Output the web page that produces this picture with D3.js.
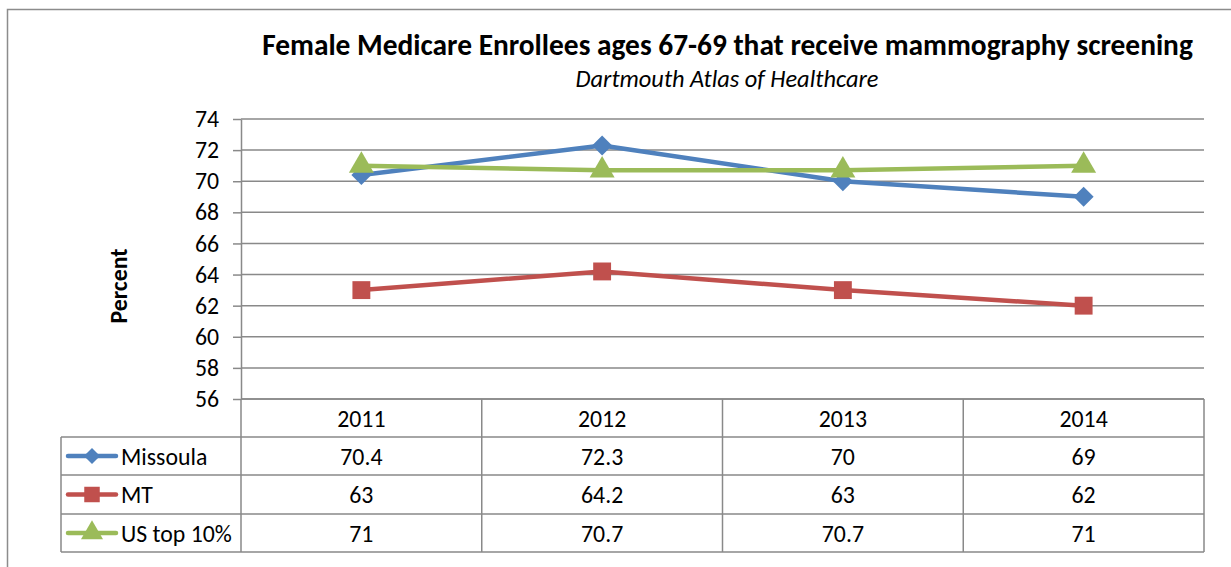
<!DOCTYPE html>
<html><head><meta charset="utf-8">
<script src="https://cdn.jsdelivr.net/npm/d3@7"></script>
<style>body{margin:0;background:#fff}svg{display:block}text{font-family:Carlito,Calibri,"Liberation Sans",Arial,sans-serif}</style>
</head><body><svg id="c" width="1231" height="567"></svg>
<script>
const categories = ["2011","2012","2013","2014"];
const seriesNames = ["Missoula","MT","US top 10%"];
const missoula = [70.4, 72.3, 70, 69];
const mt = [63, 64.2, 63, 62];
const usTop10 = [71, 70.7, 70.7, 71];
const yTicks = [56,58,60,62,64,66,68,70,72,74];
const titleText = "Female Medicare Enrollees ages 67-69 that receive mammography screening";
const subtitleText = "Dartmouth Atlas of Healthcare";
const yLabel = "Percent";

const colors = ["#4F81BD","#C0504D","#9BBB59"];
const series = [missoula, mt, usTop10];
const FS = 23.8;

const svg = d3.select("#c");
const grid = "#898989";
svg.append("rect").attr("x",7.5).attr("y",9.5).attr("width",1240).attr("height",600)
  .attr("fill","none").attr("stroke","#8c8c8c").attr("stroke-width",1.5);

function fit(sel, target){
  const w = sel.node().getComputedTextLength();
  const fs = parseFloat(sel.attr("font-size"));
  sel.attr("font-size", fs*target/w);
}

const L=241, R=1204, T=119, B=399;
const x = d3.scaleBand().domain(categories).range([L,R]);
const y = d3.scaleLinear().domain([56,74]).range([B,T]);
const cx = c => x(c)+x.bandwidth()/2;

svg.append("g").selectAll("line").data(yTicks).join("line")
  .attr("x1",L).attr("x2",R).attr("y1",d=>y(d)).attr("y2",d=>y(d))
  .attr("stroke",grid).attr("stroke-width",1.5);

const ya = svg.append("g").attr("transform",`translate(${L},0)`)
  .call(d3.axisLeft(y).tickValues(yTicks).tickSize(8).tickPadding(14).tickSizeOuter(0));
ya.select(".domain").attr("stroke",grid).attr("stroke-width",1.5);
ya.selectAll(".tick line").attr("stroke",grid).attr("stroke-width",1.5);
ya.selectAll(".tick text").attr("font-size",FS).attr("fill","#000").attr("font-family",null);

svg.append("text").attr("transform","translate(127,286) rotate(-90)")
  .attr("text-anchor","middle").attr("font-weight","bold").attr("font-size",FS).text(yLabel);

const t1 = svg.append("text").attr("x",727.5).attr("y",55).attr("text-anchor","middle")
  .attr("font-weight","bold").attr("font-size",28).text(titleText);
fit(t1, 931);
const t2 = svg.append("text").attr("x",727).attr("y",87).attr("text-anchor","middle")
  .attr("font-style","italic").attr("font-size",22).text(subtitleText);
fit(t2, 303);

const line = d3.line().x((d,i)=>cx(categories[i])).y(d=>y(d));
series.forEach((s,k)=>{
  svg.append("path").datum(s).attr("d",line).attr("fill","none")
    .attr("stroke",colors[k]).attr("stroke-width",4.5).attr("stroke-linejoin","round");
});
function marker(k, big){
  if(k===0) return d3.symbol().type(d3.symbolSquare).size(big?200:130)();
  if(k===1) return d3.symbol().type(d3.symbolSquare).size(big?320:240)();
  return d3.symbol().type(d3.symbolTriangle).size(big?270:210)();
}
series.forEach((s,k)=>{
  svg.append("g").selectAll("path").data(s).join("path")
    .attr("transform",(d,i)=>`translate(${cx(categories[i])},${y(d)})${k===0?" rotate(45)":""}`)
    .attr("d", marker(k,true))
    .attr("fill",colors[k]);
});

const rows = [B, 437, 475, 514, 552];
const TL = 61;
const tg = svg.append("g");
const hl = (x1,x2,yy)=>tg.append("line").attr("x1",x1).attr("x2",x2).attr("y1",yy).attr("y2",yy).attr("stroke",grid).attr("stroke-width",1.5);
const vl = (xx,y1,y2)=>tg.append("line").attr("x1",xx).attr("x2",xx).attr("y1",y1).attr("y2",y2).attr("stroke",grid).attr("stroke-width",1.5);
hl(L,R,B);
rows.slice(1).forEach(r=>hl(TL,R,r));
vl(TL,437,552);
vl(L,B,552);
categories.forEach(c=>vl(x(c)+x.bandwidth(),B,552));
categories.forEach(c=>{
  tg.append("text").attr("x",cx(c)).attr("y",(B+437)/2+8.5).attr("text-anchor","middle").attr("font-size",FS).text(c);
});
series.forEach((s,k)=>{
  const yc = (rows[k+1]+rows[k+2])/2;
  s.forEach((v,i)=>{
    tg.append("text").attr("x",cx(categories[i])).attr("y",yc+8.5).attr("text-anchor","middle").attr("font-size",FS).text(v);
  });
  tg.append("line").attr("x1",68).attr("x2",116).attr("y1",yc).attr("y2",yc).attr("stroke",colors[k]).attr("stroke-width",4.5).attr("stroke-linecap","round");
  tg.append("path").attr("transform",`translate(92,${yc})${k===0?" rotate(45)":""}`)
    .attr("d", marker(k,false)).attr("fill",colors[k]);
  tg.append("text").attr("x",121).attr("y",yc+8.5).attr("font-size",FS).text(seriesNames[k]);
});
</script></body></html>
